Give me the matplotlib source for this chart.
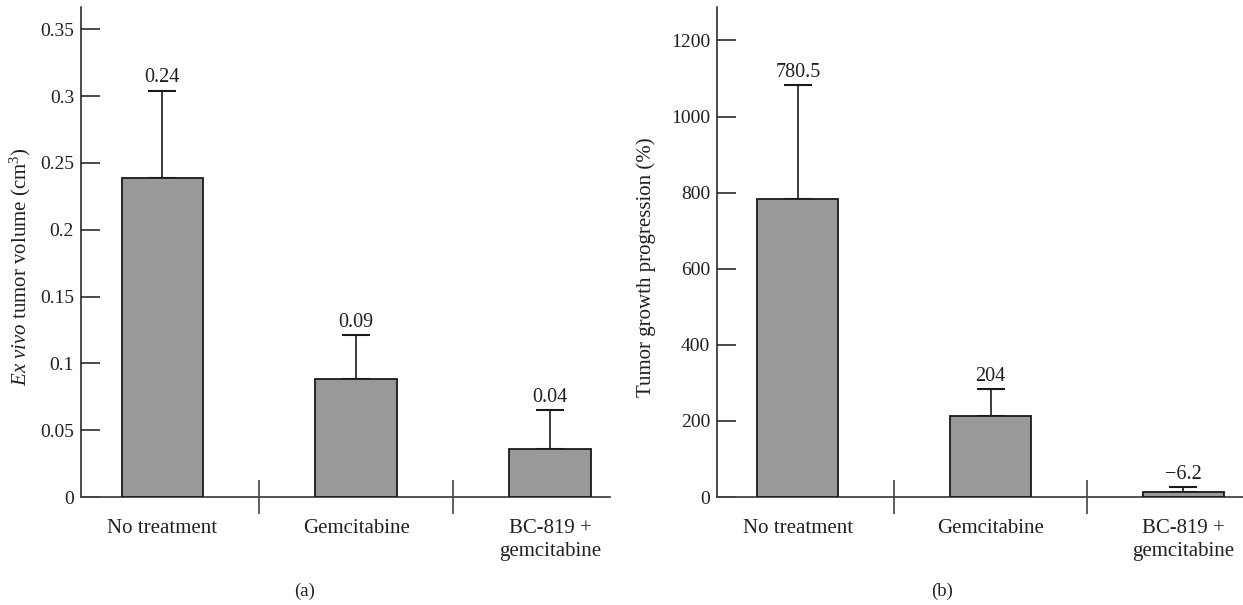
import numpy as np
import matplotlib.pyplot as plt

plt.rcParams['font.family'] = ['Liberation Serif', 'DejaVu Serif']
plt.rcParams['mathtext.fontset'] = 'custom'
plt.rcParams['mathtext.rm'] = 'Liberation Serif'
plt.rcParams['mathtext.it'] = 'Liberation Serif:italic'

TXT = '#231f20'

groups = ['No treatment', 'Gemcitabine', 'BC-819 +\ngemcitabine']

# panel (a): ex vivo tumor volume
volume_mean = [0.239, 0.088, 0.036]
volume_err = [0.065, 0.033, 0.029]
volume_labels = ['0.24', '0.09', '0.04']
volume_ticks = [0, 0.05, 0.1, 0.15, 0.2, 0.25, 0.3, 0.35]
volume_ticklabels = ['0', '0.05', '0.1', '0.15', '0.2', '0.25', '0.3', '0.35']

# panel (b): tumor growth progression
growth_mean = [784, 212, 12]
growth_err = [298, 71, 14]
growth_labels = ['780.5', '204', '\u22126.2']
growth_ticks = [0, 200, 400, 600, 800, 1000, 1200]
growth_ticklabels = ['0', '200', '400', '600', '800', '1000', '1200']


def draw_panel(ax, means, errs, labels, ticks, ticklabels, ytop, ylabel, label_x):
    x = np.arange(len(groups))
    ax.bar(x, means, width=0.42, color='#999999', edgecolor='#1a1a1a',
           linewidth=1.3, zorder=3)
    ax.errorbar(x, means, yerr=[np.zeros(len(x)), errs], fmt='none',
                ecolor='#1a1a1a', elinewidth=1.2, capsize=10.4, capthick=1.5, zorder=2)
    for xi, m, e, lab in zip(x, means, errs, labels):
        ax.annotate(lab, (xi, m + e), xytext=(0, 2.5), textcoords='offset points',
                    ha='center', va='bottom', fontsize=14.5, color=TXT)

    ax.set_xlim(-0.42, 2.31)
    ax.set_ylim(0, ytop)
    ax.spines['top'].set_visible(False)
    ax.spines['right'].set_visible(False)
    ax.spines['left'].set_color('#1a1a1a')
    ax.spines['bottom'].set_color('#444444')
    ax.spines['left'].set_linewidth(1.1)
    ax.spines['bottom'].set_linewidth(1.3)

    ax.set_yticks(ticks)
    ax.set_yticklabels(ticklabels)
    ax.tick_params(axis='y', direction='in', length=14, width=1.1, pad=5,
                   labelsize=14, labelcolor=TXT, color='#1a1a1a')

    # category names under the bars, separator marks between them
    ax.set_xticks(x)
    ax.set_xticklabels(groups, linespacing=1.25)
    ax.set_xticks([0.5, 1.5], minor=True)
    ax.tick_params(axis='x', which='major', length=0, pad=16, labelsize=15, labelcolor=TXT)
    ax.tick_params(axis='x', which='minor', direction='inout', length=25, width=1.1,
                   color='#333333')

    ax.set_ylabel(ylabel, fontsize=15, color=TXT)
    ax.yaxis.set_label_coords(label_x, 0.47)


fig = plt.figure(figsize=(12.43, 6.05), dpi=100)
ax1 = fig.add_axes([81 / 1243, 108 / 605, 529 / 1243, 490 / 605])
ax2 = fig.add_axes([717 / 1243, 108 / 605, 526 / 1243, 490 / 605])

draw_panel(ax1, volume_mean, volume_err, volume_labels, volume_ticks, volume_ticklabels,
           0.3667, r'$\it{Ex\ vivo}$ tumor volume (cm$^3$)', -0.091)
draw_panel(ax2, growth_mean, growth_err, growth_labels, growth_ticks, growth_ticklabels,
           1288, 'Tumor growth progression (%)', -0.116)

fig.text(305 / 1243, 14 / 605, '(a)', ha='center', va='center', fontsize=13.5, color=TXT)
fig.text(942 / 1243, 14 / 605, '(b)', ha='center', va='center', fontsize=13.5, color=TXT)

fig.savefig('out.png', dpi=100)
